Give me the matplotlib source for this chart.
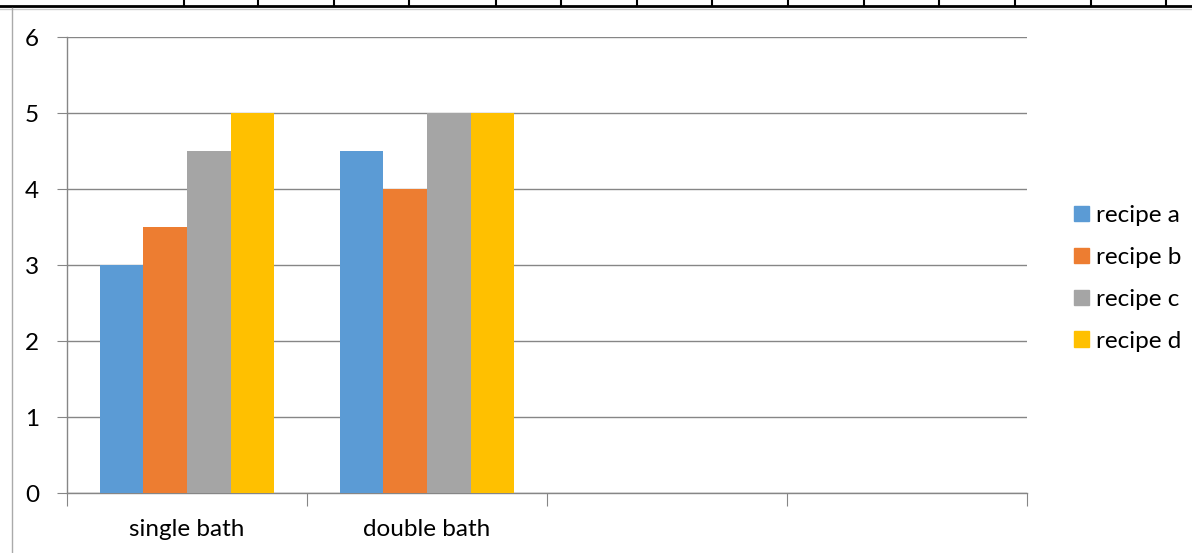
import matplotlib.pyplot as plt
import numpy as np
from matplotlib.lines import Line2D

# Данные диаграммы
categories = ["single bath", "double bath", "", ""]
series_names = ["recipe a", "recipe b", "recipe c", "recipe d"]
recipe_a = [3, 4.5]
recipe_b = [3.5, 4]
recipe_c = [4.5, 5]
recipe_d = [5, 5]
y_ticks = [0, 1, 2, 3, 4, 5, 6]

colors = ["#5B9BD5", "#ED7D31", "#A5A5A5", "#FFC000"]
grid_color = "#868686"
fs = 17.5

plt.rcParams['font.family'] = ['Lato', 'DejaVu Sans']

fig = plt.figure(figsize=(11.92, 5.53), dpi=100)
ax = fig.add_axes([67 / 1192, 1 - 493 / 553, 960 / 1192, 456 / 553])

# Ширина столбца как в Excel (зазор 150%)
n = len(series_names)
width = 1 / (n + 1.5)
all_series = [recipe_a, recipe_b, recipe_c, recipe_d]
for i, (name, vals) in enumerate(zip(series_names, all_series)):
    x = np.arange(len(vals)) + (i - (n - 1) / 2) * width
    ax.bar(x, vals, width=width, color=colors[i], label=name, linewidth=0, zorder=3)

ax.set_xlim(-0.5, len(categories) - 0.5)
ax.set_ylim(0, 6)

# Сетка и оси
ax.set_yticks(y_ticks)
ax.yaxis.grid(True, color=grid_color, linewidth=1, zorder=0)
for side in ["top", "right"]:
    ax.spines[side].set_visible(False)
for side in ["left", "bottom"]:
    ax.spines[side].set_color(grid_color)
    ax.spines[side].set_linewidth(1)

ax.tick_params(axis='y', length=7, color=grid_color, pad=13, labelsize=fs)

ax.set_xticks(np.arange(len(categories) + 1) - 0.5)
ax.set_xticklabels([])
ax.tick_params(axis='x', which='major', length=9, color=grid_color)
ax.set_xticks(np.arange(len(categories)), minor=True)
ax.set_xticklabels(categories, minor=True)
ax.tick_params(axis='x', which='minor', length=0, pad=18.5, labelsize=fs)

# Легенда
handles = [plt.Rectangle((0, 0), 1, 1, color=c) for c in colors]
fig.legend(handles, series_names, loc='center left', bbox_to_anchor=(1074 / 1192, 1 - 278.5 / 553),
           bbox_transform=fig.transFigure, frameon=False, fontsize=fs,
           handlelength=0.62, handleheight=0.62, handletextpad=0.3,
           labelspacing=0.86, borderpad=0, borderaxespad=0)

# Рамка таблицы сверху и слева
fig.add_artist(Line2D([0, 1], [1 - 6 / 553] * 2, color='black', linewidth=2))
fig.add_artist(Line2D([0, 1], [1 - 8.5 / 553] * 2, color='#cccccc', linewidth=1))
fig.add_artist(Line2D([11.5 / 1192] * 2, [0, 1 - 8 / 553], color='#aaaaaa', linewidth=1))
for xt in [184, 258, 334, 409, 496, 561, 637, 712, 788, 864, 939, 1015, 1091, 1166]:
    fig.add_artist(Line2D([xt / 1192] * 2, [1 - 6 / 553, 1], color='black', linewidth=1.5))

fig.savefig("out.png", dpi=100)
